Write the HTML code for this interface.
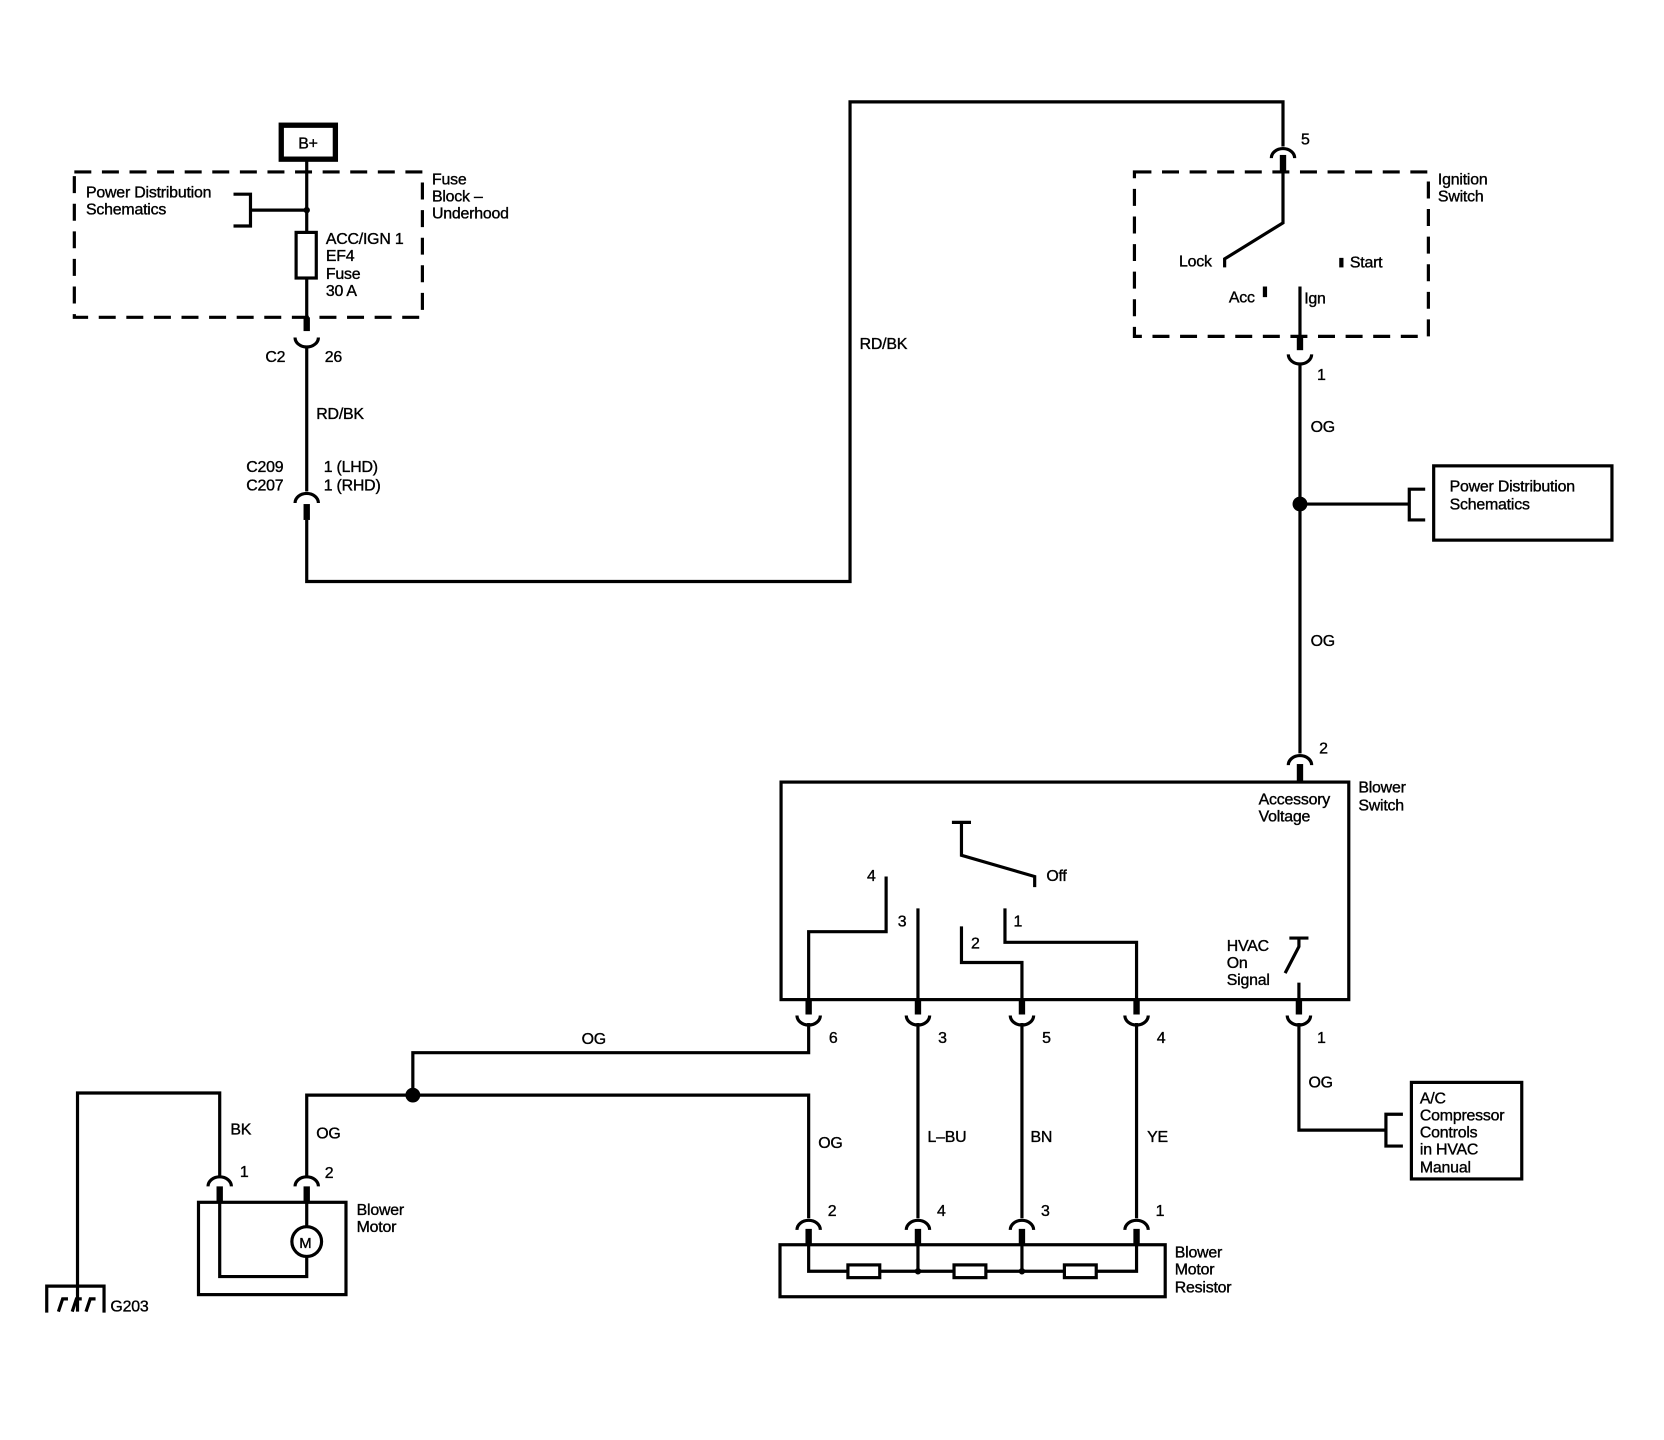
<!DOCTYPE html>
<html><head><meta charset="utf-8"><style>
html,body{margin:0;padding:0;background:#fff;}
svg{display:block;}
text{font-family:"Liberation Sans",Arial,sans-serif;font-size:15px;fill:#000;stroke:#000;stroke-width:0.35px;letter-spacing:-0.2px;}
</style></head><body>
<svg width="1664" height="1440" viewBox="0 0 1568 1357" xmlns="http://www.w3.org/2000/svg">
<g fill="none" stroke="#000" stroke-width="3">
<rect x="265" y="118" width="51" height="32" stroke-width="5"/>
<rect x="70" y="162" width="328" height="137" stroke-dasharray="16,10"/>
<path d="M220 183 H236 V213 H220 M236 198 H289"/>
<path d="M289 152 V219 M289 262 V299"/>
<rect x="279" y="219" width="19" height="43"/>
<path d="M289 299 V312" stroke-width="6"/>
<path d="M278 318 A11 9 0 0 0 300 318"/>
<path d="M289 327 V463"/>
<path d="M278 474 A11 9 0 0 1 300 474"/>
<path d="M289 475 V490" stroke-width="6"/>
<path d="M289 490 V548 H801 V96 H1209 V138"/>
<path d="M1198 149 A11 9 0 0 1 1220 149"/>
<path d="M1209 146 V162" stroke-width="6"/>
<rect x="1069" y="162" width="277" height="155" stroke-dasharray="16,10"/>
<path d="M1209 162 V210 L1154 244 V252"/>
<path d="M1264 243 V252" stroke-width="4"/>
<path d="M1192 270 V280" stroke-width="4"/>
<path d="M1225 270 V317"/>
<path d="M1225 317 V330" stroke-width="6"/>
<path d="M1214 334 A11 9 0 0 0 1236 334"/>
<path d="M1225 342 V710"/>
<path d="M1225 475 H1328 M1343 461 H1328 V490 H1343"/>
<rect x="1351" y="439" width="168" height="70"/>
<path d="M1214 721 A11 9 0 0 1 1236 721"/>
<path d="M1225 720 V737" stroke-width="6"/>
<rect x="736" y="737" width="535" height="205"/>
<path d="M897 775 H915 M906 775 V806 L975 826 V836"/>
<path d="M835 826 V878 H762 V942"/>
<path d="M865 856 V942"/>
<path d="M906 873 V907 H963 V942"/>
<path d="M947 856 V888 H1071 V942"/>
<path d="M1215 884 H1233 M1224 884 V892 L1211 917"/>
<path d="M1224 926 V942"/>
<g stroke-width="6"><path d="M762 942 V956 M865 942 V956 M963 942 V956 M1071 942 V956 M1224 942 V956"/></g>
<path d="M751 957 A11 9 0 0 0 773 957 M854 957 A11 9 0 0 0 876 957 M952 957 A11 9 0 0 0 974 957 M1060 957 A11 9 0 0 0 1082 957 M1213 957 A11 9 0 0 0 1235 957"/>
<path d="M762 964 V992 H389 V1032"/>
<path d="M289 1108 V1032 H762 V1148"/>
<path d="M865 964 V1148 M963 964 V1148 M1071 964 V1148"/>
<path d="M1224 964 V1065 H1306 M1322 1050 H1306 V1080 H1322"/>
<rect x="1330" y="1020" width="104" height="91"/>
<path d="M207 1108 V1030 H73 V1236"/>
<path d="M196 1118 A11 9 0 0 1 218 1118 M278 1118 A11 9 0 0 1 300 1118"/>
<path d="M207 1118 V1133 M289 1118 V1133" stroke-width="6"/>
<rect x="187" y="1133" width="139" height="87"/>
<path d="M207 1133 V1203 H289 V1184 M289 1133 V1156"/>
<circle cx="289" cy="1170" r="14"/>
<path d="M44 1237 V1212 H98 V1237"/>
<path d="M55 1236 L59 1224 H64 M68 1236 L72 1224 H77 M81 1236 L85 1224 H90" stroke-width="3"/>
<path d="M751 1159 A11 9 0 0 1 773 1159 M854 1159 A11 9 0 0 1 876 1159 M952 1159 A11 9 0 0 1 974 1159 M1060 1159 A11 9 0 0 1 1082 1159"/>
<path d="M762 1158 V1173 M865 1158 V1173 M963 1158 V1173 M1071 1158 V1173" stroke-width="6"/>
<rect x="735" y="1173" width="363" height="49"/>
<path d="M762 1173 V1198 H1071 V1173 M865 1173 V1198 M963 1173 V1198"/>
<rect x="799" y="1192" width="30" height="12" fill="#fff"/>
<rect x="899" y="1192" width="30" height="12" fill="#fff"/>
<rect x="1003" y="1192" width="30" height="12" fill="#fff"/>
</g>
<g fill="#000">
<circle cx="289" cy="198" r="3"/>
<circle cx="1225" cy="475" r="7"/>
<circle cx="389" cy="1032" r="7"/>
<circle cx="865" cy="1198" r="3"/>
<circle cx="963" cy="1198" r="3"/>
</g>
<text x="281" y="140">B+</text>
<text x="81" y="186">Power Distribution</text>
<text x="81" y="202">Schematics</text>
<text x="407" y="174">Fuse</text>
<text x="407" y="190">Block –</text>
<text x="407" y="206">Underhood</text>
<text x="307" y="230">ACC/IGN 1</text>
<text x="307" y="246">EF4</text>
<text x="307" y="263">Fuse</text>
<text x="307" y="279">30 A</text>
<text x="250" y="341">C2</text>
<text x="306" y="341">26</text>
<text x="298" y="395">RD/BK</text>
<text x="232" y="445">C209</text>
<text x="232" y="462">C207</text>
<text x="305" y="445">1 (LHD)</text>
<text x="305" y="462">1 (RHD)</text>
<text x="810" y="329">RD/BK</text>
<text x="1226" y="136">5</text>
<text x="1355" y="174">Ignition</text>
<text x="1355" y="190">Switch</text>
<text x="1111" y="251">Lock</text>
<text x="1272" y="252">Start</text>
<text x="1158" y="285">Acc</text>
<text x="1229" y="286">Ign</text>
<text x="1241" y="358">1</text>
<text x="1235" y="407">OG</text>
<text x="1366" y="463">Power Distribution</text>
<text x="1366" y="480">Schematics</text>
<text x="1235" y="609">OG</text>
<text x="1243" y="710">2</text>
<text x="1280" y="747">Blower</text>
<text x="1280" y="764">Switch</text>
<text x="1186" y="758">Accessory</text>
<text x="1186" y="774">Voltage</text>
<text x="986" y="830">Off</text>
<text x="817" y="830">4</text>
<text x="846" y="873">3</text>
<text x="915" y="894">2</text>
<text x="955" y="873">1</text>
<text x="1156" y="896">HVAC</text>
<text x="1156" y="912">On</text>
<text x="1156" y="928">Signal</text>
<text x="781" y="983">6</text>
<text x="884" y="983">3</text>
<text x="982" y="983">5</text>
<text x="1090" y="983">4</text>
<text x="1241" y="983">1</text>
<text x="548" y="984">OG</text>
<text x="1233" y="1025">OG</text>
<text x="1338" y="1040">A/C</text>
<text x="1338" y="1056">Compressor</text>
<text x="1338" y="1072">Controls</text>
<text x="1338" y="1088">in HVAC</text>
<text x="1338" y="1105">Manual</text>
<text x="217" y="1069">BK</text>
<text x="298" y="1073">OG</text>
<text x="771" y="1082">OG</text>
<text x="874" y="1076">L–BU</text>
<text x="971" y="1076">BN</text>
<text x="1081" y="1076">YE</text>
<text x="226" y="1109">1</text>
<text x="306" y="1110">2</text>
<text x="336" y="1145">Blower</text>
<text x="336" y="1161">Motor</text>
<text x="282" y="1176" style="font-size:14px">M</text>
<text x="104" y="1236">G203</text>
<text x="780" y="1146">2</text>
<text x="883" y="1146">4</text>
<text x="981" y="1146">3</text>
<text x="1089" y="1146">1</text>
<text x="1107" y="1185">Blower</text>
<text x="1107" y="1201">Motor</text>
<text x="1107" y="1218">Resistor</text>
</svg>
</body></html>
